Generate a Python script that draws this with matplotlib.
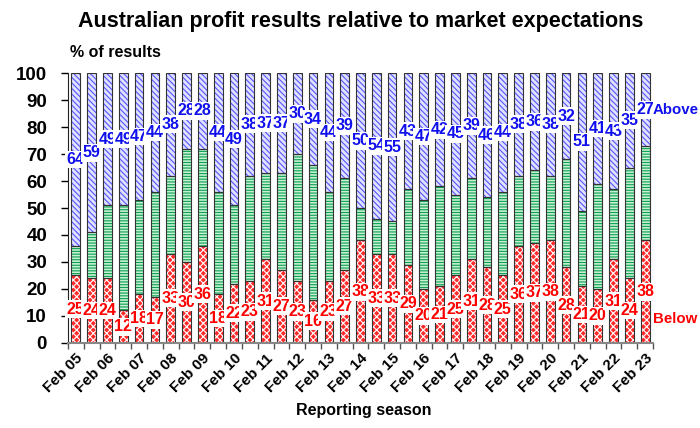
#!/usr/bin/env python3
"""Australian profit results relative to market expectations - stacked bars."""

import matplotlib
matplotlib.use("Agg")
import matplotlib.pyplot as plt
import numpy as np

plt.rcParams["font.family"] = ["Liberation Sans", "DejaVu Sans"]
plt.rcParams["font.weight"] = "bold"
plt.rcParams["hatch.linewidth"] = 0.8

# reporting seasons, Feb 05 .. Feb 23 (Feb and Aug each year)
seasons = []
for yr in range(5, 24):
    seasons.append(f"Feb {yr:02d}")
    if yr < 23:
        seasons.append(f"Aug {yr:02d}")

below = [25, 24, 24, 12, 18, 17, 33, 30, 36, 18, 22, 23, 31, 27, 23, 16, 23, 27, 38,
         33, 33, 29, 20, 21, 25, 31, 28, 25, 36, 37, 38, 28, 21, 20, 31, 24, 38]
above = [64, 59, 49, 49, 47, 44, 38, 28, 28, 44, 49, 38, 37, 37, 30, 34, 44, 39, 50,
         54, 55, 43, 47, 42, 45, 39, 46, 44, 38, 36, 38, 32, 51, 41, 43, 35, 27]
inline = [100 - b - a for b, a in zip(below, above)]

x = np.arange(len(seasons))
width = 0.55

fig = plt.figure(figsize=(7.0, 4.28), dpi=100)
ax = fig.add_axes([0.097, 0.199, 0.836, 0.630])

# hatched fills first, then a plain dark outline on top
ax.bar(x, below, width, facecolor="#ff2a2a", edgecolor="white", hatch="xxxxx", linewidth=0)
ax.bar(x, inline, width, bottom=below, facecolor="#c8f0d4", edgecolor="#0aa050",
       hatch="------", linewidth=0)
bot2 = np.array(below) + np.array(inline)
ax.bar(x, above, width, bottom=bot2, facecolor="#e0e0ff", edgecolor="#5555ff",
       hatch="\\\\\\\\\\\\", linewidth=0)
for vals, bots in [(below, 0), (inline, below), (above, bot2)]:
    ax.bar(x, vals, width, bottom=bots, fill=False, edgecolor="#333333", linewidth=0.8)

box = dict(facecolor="white", edgecolor="none", pad=1.0)
for i in range(len(x)):
    ax.text(x[i], below[i] / 2, str(below[i]), color="#ff0000", fontsize=11.5,
            ha="center", va="center", bbox=box, zorder=5)
    ax.text(x[i], bot2[i] + above[i] / 2, str(above[i]), color="#1010ee", fontsize=11.5,
            ha="center", va="center", bbox=box, zorder=5)

ax.text(x[-1] + 0.47, bot2[-1] + above[-1] / 2, "Above", color="#1010ee", fontsize=10.8,
        ha="left", va="center", clip_on=False, zorder=6)
ax.text(x[-1] + 0.5, 9, "Below", color="#ff0000", fontsize=10.8,
        ha="left", va="center", clip_on=False)

ax.set_xlim(-0.5, len(x) - 0.5)
ax.set_ylim(0, 100)
ax.set_yticks(range(0, 101, 10))
ax.tick_params(axis="y", labelsize=13.5, length=5, width=1, pad=10)
ax.set_xticks(x[::2])
ax.set_xticklabels(seasons[::2], rotation=45, ha="right", rotation_mode="anchor", fontsize=11)
ax.tick_params(axis="x", which="major", length=0, pad=6)
ax.set_xticks(np.arange(-0.5, len(x), 1), minor=True)
ax.tick_params(axis="x", which="minor", length=4, width=1, color="#555555")

for side in ("top", "right"):
    ax.spines[side].set_visible(False)
ax.spines["left"].set_color("#222222")
ax.spines["bottom"].set_color("#888888")
ax.spines["bottom"].set_linewidth(1.5)

fig.text(0.515, 0.95, "Australian profit results relative to market expectations",
         ha="center", va="center", fontsize=15.5)
fig.text(0.1, 0.878, "% of results", ha="left", va="center", fontsize=11.5)
fig.text(0.52, 0.04, "Reporting season", ha="center", va="center", fontsize=11.5)

fig.savefig("out.png", dpi=100)
plt.close(fig)
